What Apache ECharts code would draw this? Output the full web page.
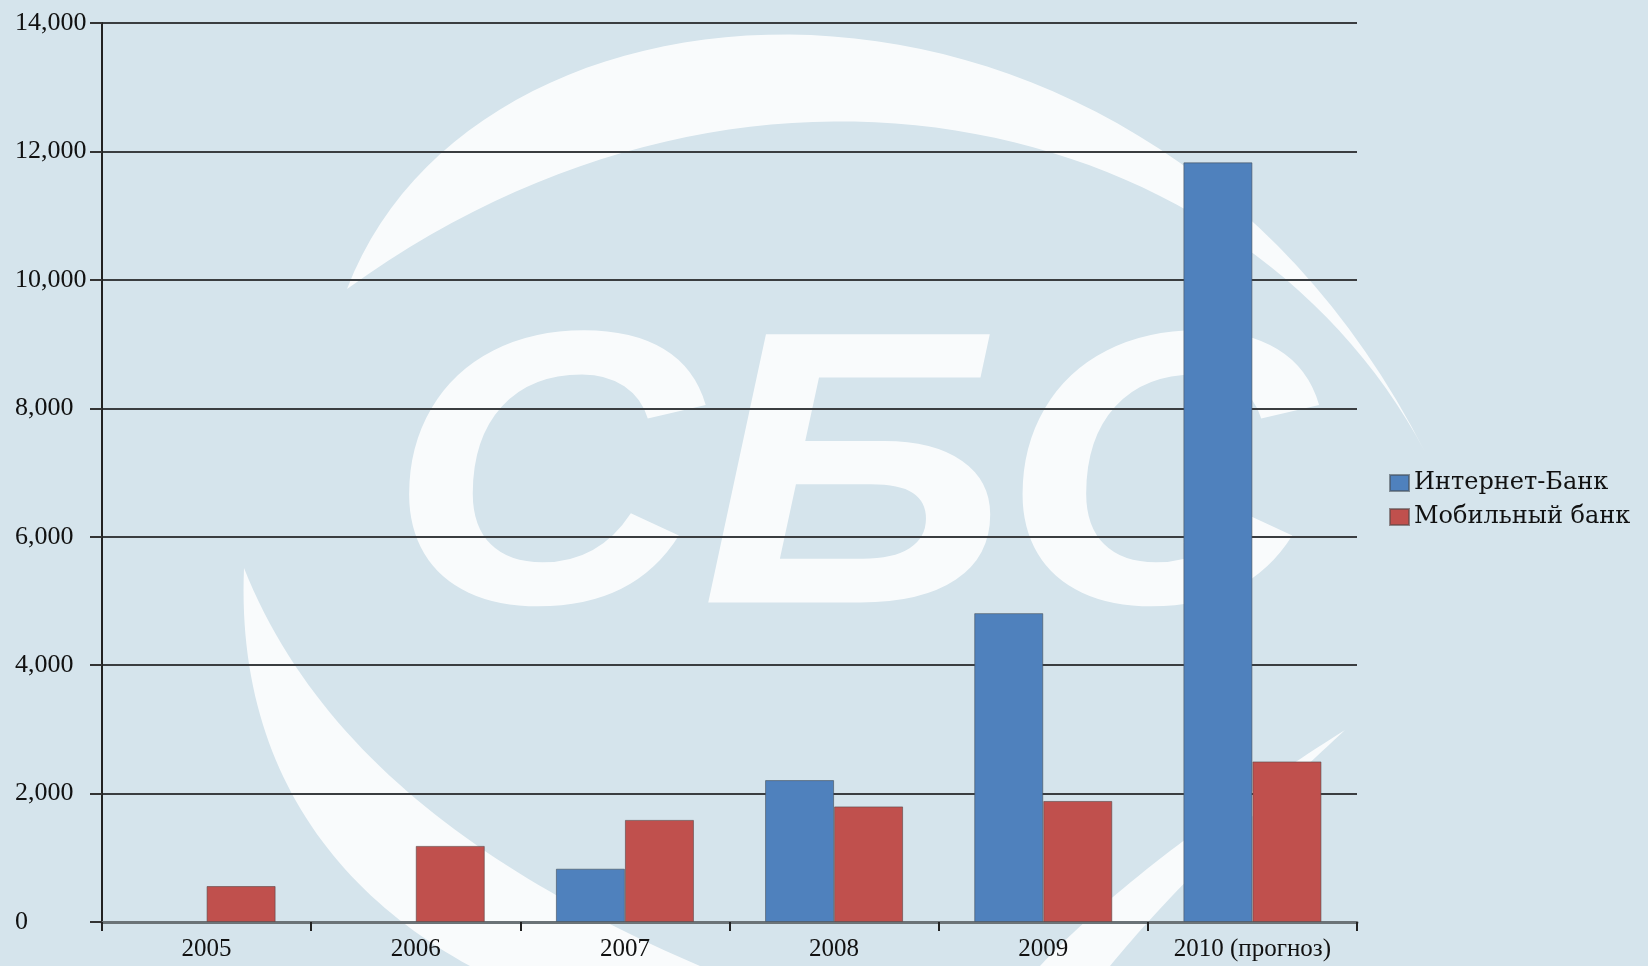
<!DOCTYPE html>
<html>
<head>
<meta charset="utf-8">
<script src="https://cdn.jsdelivr.net/npm/echarts@6/dist/echarts.min.js"></script>
<style>
html,body{margin:0;padding:0;background:#d5e4ec;}
#chart{width:1648px;height:966px;}
</style>
</head>
<body>
<div id="chart"></div>
<script>
const categories = ['2005', '2006', '2007', '2008', '2009', '2010 (прогноз)'];
const internetBank = [null, null, 830, 2210, 4810, 11830];
const mobileBank = [560, 1185, 1590, 1800, 1885, 2500];
const seriesNames = ['Интернет-Банк', 'Мобильный банк'];

// decorative watermark shapes (background only)
function bez(p0, p1, p2, p3, n) {
  const pts = [];
  for (let i = 0; i <= n; i++) {
    const t = i / n, u = 1 - t;
    pts.push([
      u*u*u*p0[0] + 3*u*u*t*p1[0] + 3*u*t*t*p2[0] + t*t*t*p3[0],
      u*u*u*p0[1] + 3*u*u*t*p1[1] + 3*u*t*t*p2[1] + t*t*t*p3[1]
    ]);
  }
  return pts;
}
const wmFill = 'rgba(255,255,255,0.85)';
const topSwoosh = bez([347,289],[480,-60],[1150,-90],[1425,452],60)
  .concat(bez([1425,452],[1250,120],[760,-10],[347,289],60).slice(1));
const leftSwoosh = bez([244,568],[236,760],[330,890],[470,966],50)
  .concat([[700,966]])
  .concat(bez([700,966],[500,880],[320,760],[244,568],50));
const rightSwoosh = bez([1345,730],[1250,790],[1120,880],[1040,966],40)
  .concat([[1110,966]])
  .concat(bez([1110,966],[1180,880],[1270,800],[1345,730],40));

const chart = echarts.init(document.getElementById('chart'));
const serif = '"Liberation Serif", "DejaVu Serif", serif';

chart.setOption({
  backgroundColor: '#d5e4ec',
  animation: false,
  graphic: [
    { type: 'polygon', silent: true, z: -10, shape: { points: topSwoosh }, style: { fill: wmFill } },
    { type: 'polygon', silent: true, z: -10, shape: { points: leftSwoosh }, style: { fill: wmFill } },
    { type: 'polygon', silent: true, z: -10, shape: { points: rightSwoosh }, style: { fill: wmFill } },
    { type: 'text', silent: true, z: -10, x: 388, y: 300, scaleX: 1.11,
      style: { text: 'СБС', fill: wmFill,
        font: 'italic bold 390px "Liberation Sans", Arial, sans-serif' } }
  ],
  legend: {
    orient: 'vertical',
    left: 1384,
    top: 466,
    itemWidth: 19,
    itemHeight: 16,
    itemGap: 10,
    icon: 'rect',
    textStyle: { fontFamily: '"DejaVu Serif", serif', fontSize: 24, color: '#111' },
    data: seriesNames
  },
  grid: { left: 102, right: 291, top: 23, bottom: 44, containLabel: false },
  xAxis: {
    type: 'category',
    data: categories,
    axisLine: { show: true, lineStyle: { color: '#6b7377', width: 3 } },
    axisTick: { show: true, interval: 0, length: 9, lineStyle: { color: '#222', width: 2 } },
    axisLabel: { interval: 0, fontFamily: serif, fontSize: 25, color: '#111', margin: 15 }
  },
  yAxis: {
    type: 'value',
    min: 0,
    max: 14000,
    interval: 2000,
    axisLine: { show: true, lineStyle: { color: '#222', width: 2 } },
    axisTick: { show: true, length: 12, lineStyle: { color: '#333', width: 2 } },
    axisLabel: { fontFamily: serif, fontSize: 26, color: '#111', margin: 87, align: 'left',
      formatter: v => v === 0 ? '0' : v.toLocaleString('en-US') },
    splitLine: { show: true, lineStyle: { color: '#3a3d40', width: 2 } }
  },
  series: [
    { name: seriesNames[0], type: 'bar', data: internetBank, barGap: '0%', barCategoryGap: '34%',
      itemStyle: { color: '#4f81bd', borderColor: 'rgba(70,80,90,0.6)', borderWidth: 1 } },
    { name: seriesNames[1], type: 'bar', data: mobileBank, barGap: '0%', barCategoryGap: '34%',
      itemStyle: { color: '#c0504d', borderColor: 'rgba(90,70,70,0.6)', borderWidth: 1 } }
  ]
});
</script>
</body>
</html>
